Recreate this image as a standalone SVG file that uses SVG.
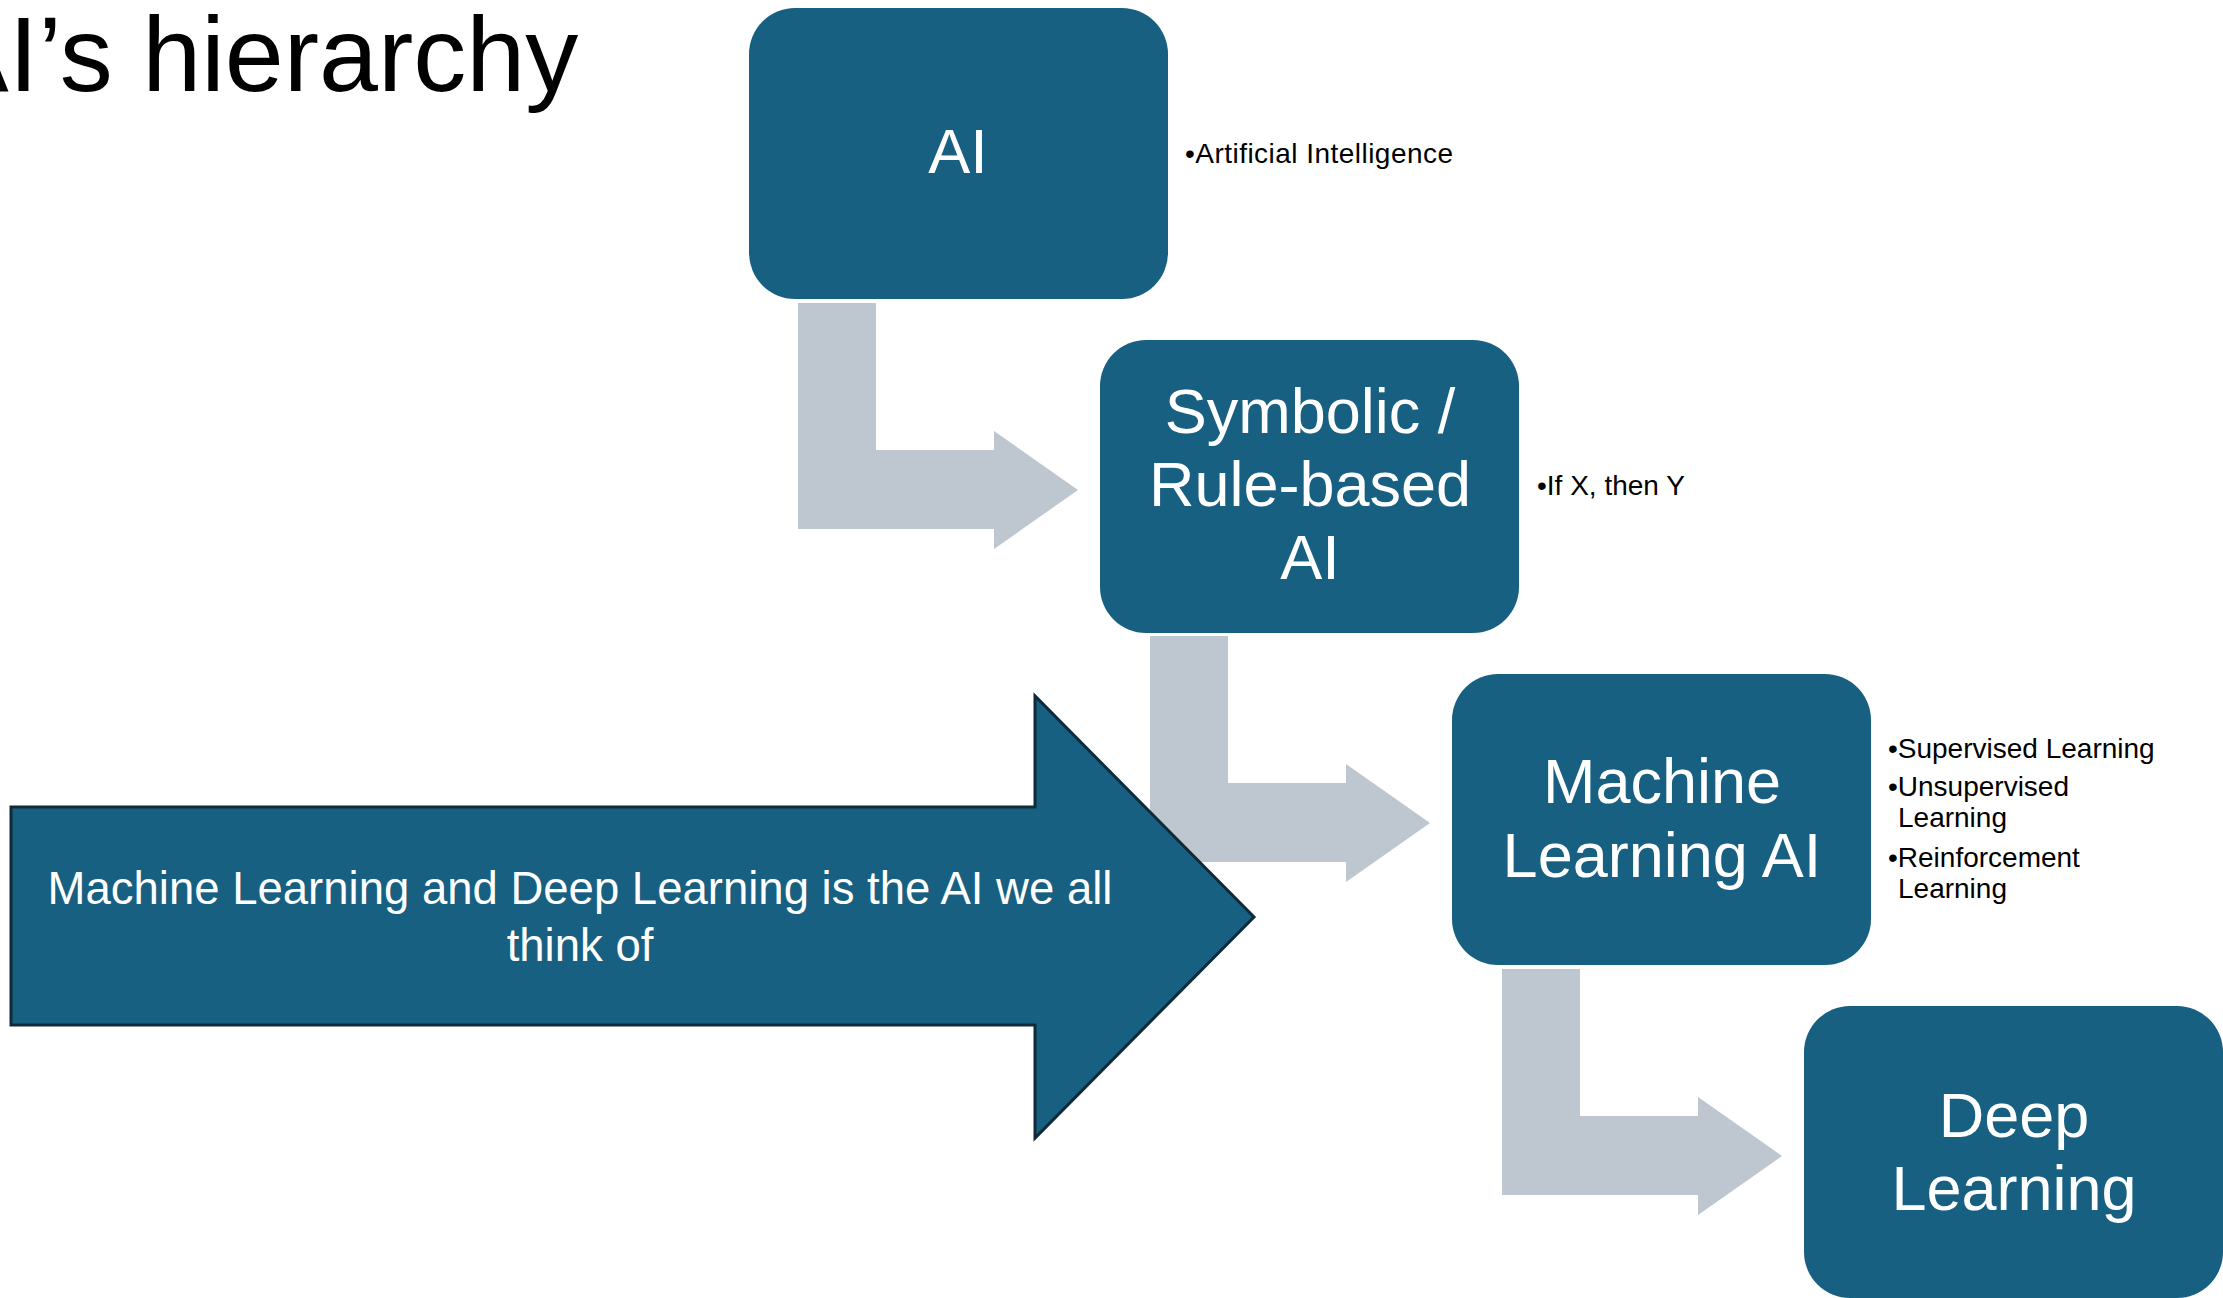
<svg xmlns="http://www.w3.org/2000/svg" width="2223" height="1298" viewBox="0 0 2223 1298">
  <style>
    .box { fill: #186081; }
    .flow { fill: #BEC6CF; }
    .big { fill: #186081; stroke: #0E2A3B; stroke-width: 3; stroke-linejoin: miter; }
    .label { font-family: "Liberation Sans", Arial, sans-serif; fill: #FFFFFF; text-anchor: middle; }
    .node-title { font-size: 63px; }
    .note { font-family: "Liberation Sans", Arial, sans-serif; font-size: 28px; fill: #000000; }
    .title { font-family: "Liberation Sans", Arial, sans-serif; font-size: 106px; fill: #000000; }
    .callout { font-size: 45.5px; }
  </style>
  <defs>
    <!-- bent (L-shaped) arrow between consecutive levels -->
    <polygon id="bent" class="flow" points="798,303 876,303 876,450 994,450 994,431 1078,490 994,549 994,529 798,529"/>
  </defs>

  <rect width="2223" height="1298" fill="#FFFFFF"/>

  <text class="title" x="-62" y="91">AI’s hierarchy</text>

  <!-- connectors -->
  <g id="connectors">
    <use href="#bent"/>
    <use href="#bent" transform="translate(352,333)"/>
    <use href="#bent" transform="translate(704,666)"/>
  </g>

  <!-- level nodes -->
  <g id="node-ai">
    <rect class="box" x="749" y="8" width="419" height="291" rx="46" ry="46"/>
    <text class="label node-title" x="958" y="173">AI</text>
    <text class="note" x="1185" y="163" textLength="268" lengthAdjust="spacing">•Artificial Intelligence</text>
  </g>

  <g id="node-symbolic">
    <rect class="box" x="1100" y="340" width="419" height="293" rx="46" ry="46"/>
    <text class="label node-title" x="1310" y="433">Symbolic /</text>
    <text class="label node-title" x="1310" y="506">Rule-based</text>
    <text class="label node-title" x="1310" y="579">AI</text>
    <text class="note" x="1537" y="495">•If X, then Y</text>
  </g>

  <g id="node-ml">
    <rect class="box" x="1452" y="674" width="419" height="291" rx="46" ry="46"/>
    <text class="label node-title" x="1662" y="803">Machine</text>
    <text class="label node-title" x="1662" y="877">Learning AI</text>
    <text class="note" x="1888" y="758">•Supervised Learning</text>
    <text class="note" x="1888" y="796">•Unsupervised</text>
    <text class="note" x="1898" y="827">Learning</text>
    <text class="note" x="1888" y="867">•Reinforcement</text>
    <text class="note" x="1898" y="898">Learning</text>
  </g>

  <g id="node-dl">
    <rect class="box" x="1804" y="1006" width="419" height="292" rx="46" ry="46"/>
    <text class="label node-title" x="2014" y="1137">Deep</text>
    <text class="label node-title" x="2014" y="1210">Learning</text>
  </g>

  <!-- large callout arrow -->
  <g id="callout-arrow">
    <polygon class="big" points="11,807 1035,807 1035,696 1254,917 1035,1138 1035,1025 11,1025"/>
    <text class="label callout" x="580" y="904">Machine Learning and Deep Learning is the AI we all</text>
    <text class="label callout" x="580" y="961">think of</text>
  </g>
</svg>
